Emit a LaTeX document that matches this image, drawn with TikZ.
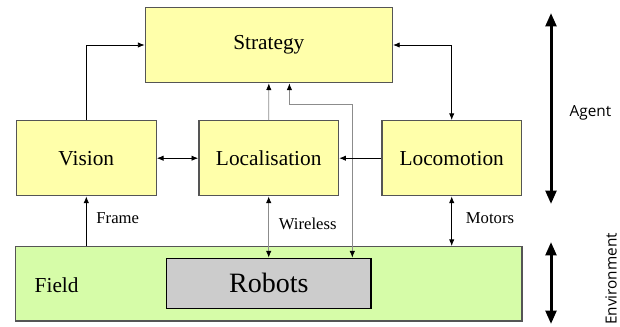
\documentclass[tikz,border=0pt]{standalone}
\usepackage{fontspec}
\setmainfont{Liberation Serif}
\newfontfamily\sidefont{Open Sans}
\usetikzlibrary{arrows.meta}
\usetikzlibrary{calc}
\definecolor{boxyellow}{RGB}{255,255,170}
\definecolor{fieldgreen}{RGB}{214,252,168}
\definecolor{robotgray}{RGB}{204,204,204}
\definecolor{boxedge}{RGB}{85,85,85}
\definecolor{linkgray}{RGB}{140,140,140}
\newcommand{\modw}{104.8pt}
\newcommand{\modh}{56.25pt}
\newcommand{\stratw}{185.3pt}
\newcommand{\strath}{56.5pt}
\newcommand{\fieldw}{380pt}
\newcommand{\fieldh}{55.7pt}
\newcommand{\robotw}{153.2pt}
\newcommand{\roboth}{37.5pt}

\begin{document}
\begin{tikzpicture}[x=0.75pt,y=-0.75pt,
    module/.style={draw=boxedge,line width=1pt,fill=boxyellow,
      minimum width=\modw,minimum height=\modh,inner sep=0pt,
      font=\fontsize{16}{18}\selectfont},
    link/.style={line width=0.6pt,black,arrows={-Latex[length=5pt,width=4pt,color=black]}},
    graylink/.style={link,draw=linkgray},
    both/.style={arrows={Latex[length=5pt,width=4pt,color=black]-Latex[length=5pt,width=4pt,color=black]}},
    tag/.style={right,font=\fontsize{12.5}{14}\selectfont,xshift=4pt,yshift=2pt},
    span/.style={line width=2.25pt,
      arrows={Triangle[length=10pt,width=8pt]-Triangle[length=10pt,width=8pt]}}]
    \useasboundingbox (0,0) rectangle (620,326);
    % environment part
    \node[draw=boxedge,line width=1pt,fill=fieldgreen,minimum width=\fieldw,
      minimum height=\fieldh,inner sep=0pt] (field) at (268.65,283.85) {};
    \node[anchor=west,font=\fontsize{16}{18}\selectfont] (fieldlbl) at (30,285) {Field};
    \node[draw=black,line width=1pt,fill=robotgray,minimum width=\robotw,
      minimum height=\roboth,inner sep=0pt,font=\fontsize{21}{24}\selectfont]
      (robots) at (268.85,283.3) {Robots};
    % agent part
    \node[module,minimum width=\stratw,minimum height=\strath] (strategy) at (268.8,45) {Strategy};
    \node[module] (vision) at (86.3,158.2) {Vision};
    \node[module] (localisation) at (268.7,158.2) {Localisation};
    \node[module] (locomotion) at (451.7,158.2) {Locomotion};
    % links between modules
    \coordinate (bend) at (352.3,104);
    \coordinate (stub) at (289.4,104);
    \draw[link] (vision.north) |- (strategy.west);
    \draw[graylink] (localisation.north) -- (strategy.south);
    \draw[graylink,both] (robots.north -| bend) -- (bend) -- (stub) -- (stub |- strategy.south);
    \draw[link,both] (vision.east) -- (localisation.west);
    \draw[link] (locomotion.west) -- (localisation.east);
    \draw[link,both] (strategy.east) -| (locomotion.north);
    % links to the field
    \draw[link] (vision.south |- field.north) -- (vision.south)
      node[tag,pos=0.5] {Frame};
    \draw[graylink,both] (localisation.south) -- (localisation.south |- robots.north)
      node[tag,pos=0.5,text=black] {Wireless};
    \draw[link,both] (locomotion.south) -- (locomotion.south |- field.north)
      node[tag,pos=0.5,xshift=3pt] {Motors};
    % side arrows
    \coordinate (agtop) at (551,13);
    \coordinate (agbot) at (551,204);
    \coordinate (envtop) at (551,242);
    \coordinate (envbot) at (551,324);
    \draw[span] (agbot) -- (agtop);
    \draw[span] (envbot) -- (envtop);
    \node[anchor=west,font=\sidefont\fontsize{11.5}{13}\selectfont] (agent) at (565,113) {Agent};
    \node[rotate=90,font=\sidefont\fontsize{11.5}{13}\selectfont] (environment) at (611,279) {Environment};
  \end{tikzpicture}
\end{document}
